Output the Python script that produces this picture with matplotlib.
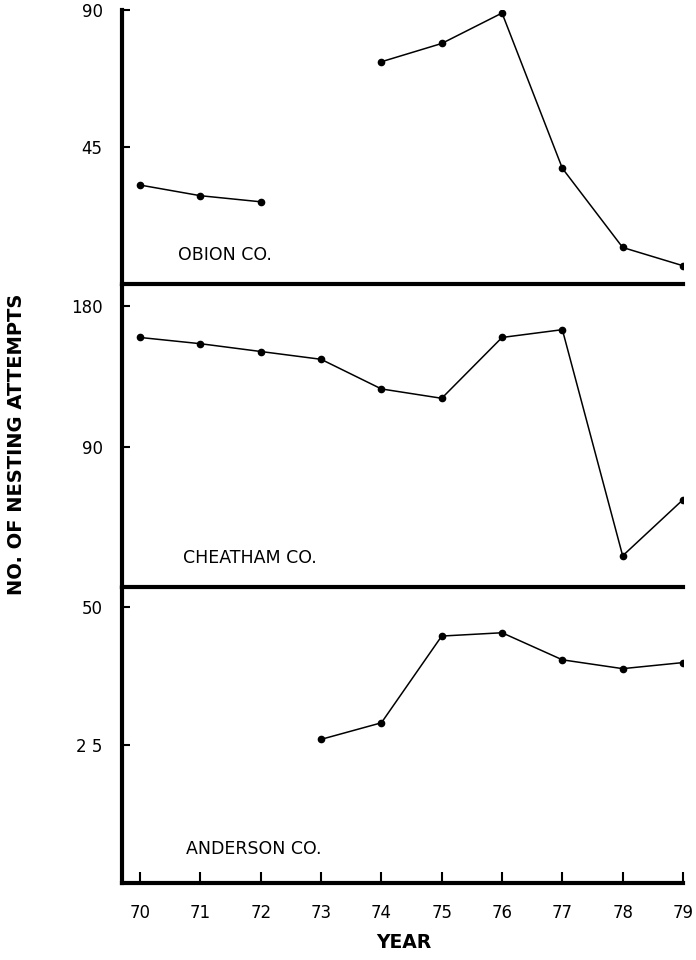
import numpy as np
import matplotlib
matplotlib.use("Agg")
import matplotlib.pyplot as plt

years = [70, 71, 72, 73, 74, 75, 76, 77, 78, 79]
year_labels = ["70", "71", "72", "73", "74", "75", "76", "77", "78", "79"]

obion = [32.5, 29, 27, np.nan, 73, 79, 89, 38, 12, 6]
cheatham = [160, 156, 151, 146, 127, 121, 160, 165, 20, 56]
anderson = [np.nan, np.nan, np.nan, 26, 29, 44.7, 45.3, 40.4, 38.8, 39.9]

panel_names = ["OBION CO.", "CHEATHAM CO.", "ANDERSON CO."]
panel_ticks = [[45, 90], [90, 180], [25, 50]]
panel_ticklabels = [["45", "90"], ["90", "180"], ["2 5", "50"]]
panel_ylim = [(0, 90), (0, 193), (0, 53.4)]

plt.rcParams['font.family'] = ['DejaVu Sans']

fig = plt.figure(figsize=(6.96, 9.6), dpi=100)
left = 122 / 696
right = 683 / 696
width = right - left
# panel boundaries in pixels (top, bottom)
bounds = [(10, 284), (286, 587), (588, 883)]
label_pos = [(0.10, 0.105), (0.109, 0.095), (0.114, 0.115)]

series = [obion, cheatham, anderson]
for i, (top, bot) in enumerate(bounds):
    ax = fig.add_axes([left, 1 - bot / 960, width, (bot - top) / 960])
    ax.plot(years, series[i], color='black', lw=1.1, marker='o', ms=4.5)
    ax.set_xlim(69.7, 79.0)
    ax.set_ylim(*panel_ylim[i])
    ax.set_yticks(panel_ticks[i])
    ax.set_yticklabels(panel_ticklabels[i], fontsize=12)
    ax.tick_params(axis='y', direction='in', length=6, width=1.5, pad=14)
    for s in ['top', 'right']:
        ax.spines[s].set_visible(False)
    ax.spines['left'].set_linewidth(3)
    ax.spines['bottom'].set_linewidth(3)
    if i < 2:
        ax.set_xticks([])
    else:
        ax.set_xticks(years)
        ax.set_xticklabels(year_labels, fontsize=12)
        ax.tick_params(axis='x', direction='in', length=8, width=1.5, pad=15)
    ax.text(label_pos[i][0], label_pos[i][1], panel_names[i],
            transform=ax.transAxes, fontsize=12.5, ha='left', va='center')
    ax.patch.set_alpha(0)

fig.text(17 / 696, 1 - 444 / 960, "NO. OF NESTING ATTEMPTS", rotation=90,
         ha='center', va='center', fontsize=14, fontweight='bold')
fig.text(404 / 696, 1 - 943 / 960, "YEAR", ha='center', va='center',
         fontsize=13.5, fontweight='bold')

fig.savefig("out.png", dpi=100, facecolor='white')
